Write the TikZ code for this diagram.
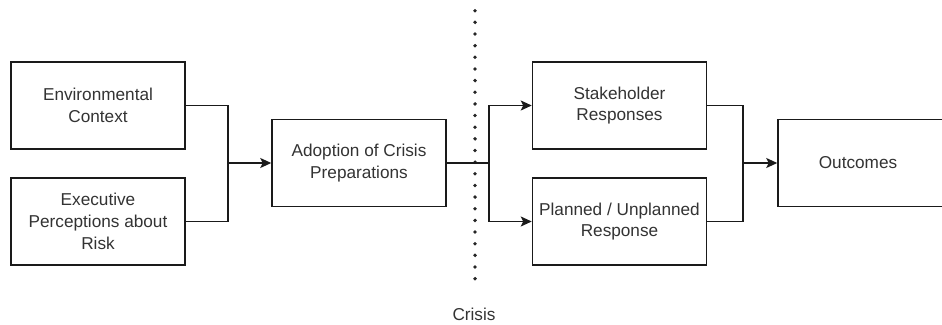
\documentclass[tikz,border=0pt]{standalone}
\usepackage{fontspec}
\setmainfont{Liberation Sans}
\usetikzlibrary{arrows.meta}
\definecolor{inkline}{HTML}{1A1A1A}
\definecolor{inktext}{HTML}{333333}
\tikzset{
  flowbox/.style={draw=inkline, line width=1.5pt, fill=white, rectangle,
    minimum width=174pt, minimum height=87pt, align=center,
    text=inktext, font=\fontsize{17.2}{21.8}\selectfont, inner sep=2pt},
  link/.style={draw=inkline, line width=1.5pt},
  arrowlink/.style={link, -{Stealth[length=11pt,width=10pt,inset=2.5pt]}},
  crisisline/.style={draw=black!85, line width=3.8pt, line cap=round,
    dash pattern=on 0pt off 11.65pt},
}
\begin{document}
\begin{tikzpicture}[x=1pt,y=-1pt]
  \useasboundingbox (0,0) rectangle (942,324);
  \clip (0,0) rectangle (942,324);

  % the crisis divide
  \coordinate (divtop) at (475,10.7);
  \coordinate (divbot) at (475,279);
  \draw[crisisline] (divtop) -- (divbot);
  \node[text=inktext, font=\fontsize{17.2}{20}\selectfont, anchor=base] (crisis) at (474,320.5) {Crisis};

  % boxes
  \node[flowbox] (env)   at (98,105.5)   {Environmental\\Context};
  \node[flowbox] (exec)  at (98,221.5)   {Executive\\Perceptions about\\Risk};
  \node[flowbox] (adopt) at (359,163)    {Adoption of Crisis\\Preparations};
  \node[flowbox] (stake) at (619.5,105.5) {Stakeholder\\Responses};
  \node[flowbox] (plan)  at (619.5,221.5) {Planned / Unplanned\\Response};
  \node[flowbox, minimum width=168pt] (out) at (862,163) {\hspace*{-8pt}Outcomes};

  % junction points
  \coordinate (jin)  at (228,163);
  \coordinate (jmid) at (489,163);
  \coordinate (jout) at (743,163);

  % inputs merge into the adoption box
  \draw[link] (env.east) -| (jin);
  \draw[link] (exec.east) -| (jin);
  \draw[arrowlink] (jin) -- (adopt.west);

  % adoption splits across the divide
  \draw[link] (adopt.east) -- (jmid);
  \draw[arrowlink] (jmid) |- (stake.west);
  \draw[arrowlink] (jmid) |- (plan.west);

  % responses merge into outcomes
  \draw[link] (stake.east) -| (jout);
  \draw[link] (plan.east) -| (jout);
  \draw[arrowlink] (jout) -- (out.west);
\end{tikzpicture}
\end{document}
